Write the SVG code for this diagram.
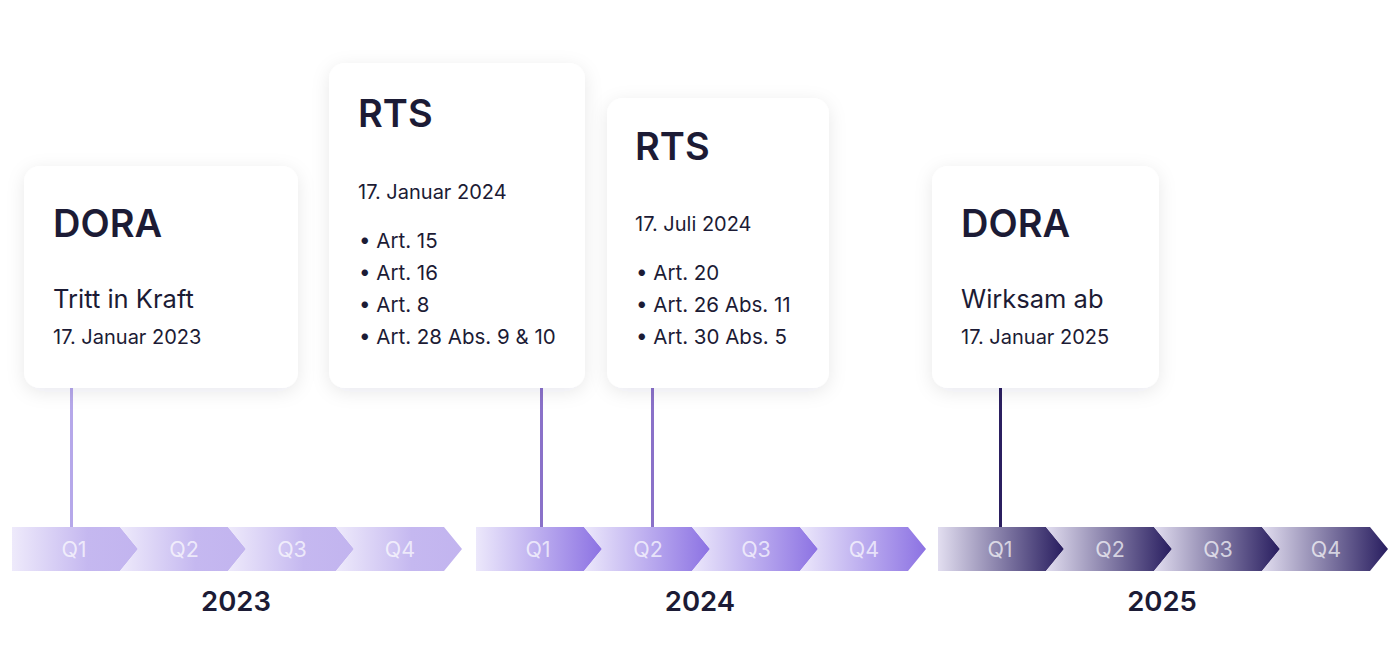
<svg xmlns="http://www.w3.org/2000/svg" width="1400" height="664" viewBox="0 0 1400 664">
<defs>
<linearGradient id="g23" x1="0" y1="0" x2="1" y2="0"><stop offset="0" stop-color="#eeeafb"/><stop offset="0.6" stop-color="#c5b8f0"/><stop offset="1" stop-color="#c2b4ef"/></linearGradient>
<linearGradient id="g24" x1="0" y1="0" x2="1" y2="0"><stop offset="0" stop-color="#ece8fb"/><stop offset="1" stop-color="#8c72e3"/></linearGradient>
<linearGradient id="g25" x1="0" y1="0" x2="1" y2="0"><stop offset="0" stop-color="#e2def0"/><stop offset="1" stop-color="#281d5f"/></linearGradient>
<filter id="sh" x="-20%" y="-20%" width="140%" height="140%"><feDropShadow dx="0" dy="4" stdDeviation="9" flood-color="#1c1a33" flood-opacity="0.09"/></filter>
</defs>
<style>
.card{fill:#ffffff;filter:url(#sh)}
.t{font-family:Inter,"Noto Sans","Liberation Sans",sans-serif;fill:#1c1b35}
.h{font-size:38px;font-weight:600}
.s{font-size:25.5px}
.d{font-size:20px}
.b{font-size:20.5px}
.q{font-family:Inter,"Noto Sans","Liberation Sans",sans-serif;font-size:21.5px;fill:#ffffff;fill-opacity:0.7;text-anchor:middle}
.y{font-family:Inter,"Noto Sans","Liberation Sans",sans-serif;font-size:27.5px;font-weight:600;fill:#1c1b35;text-anchor:middle}
.ln{stroke-width:3;fill:none}
</style>
<rect width="1400" height="664" fill="#ffffff"/>
<g id="timeline-2023">
<path d="M12,527 H120 L138,549 L120,571 H12 Z" fill="url(#g23)"/>
<path d="M120,527 H228 L246,549 L228,571 H120 L138,549 Z" fill="url(#g23)"/>
<path d="M228,527 H336 L354,549 L336,571 H228 L246,549 Z" fill="url(#g23)"/>
<path d="M336,527 H444 L462,549 L444,571 H336 L354,549 Z" fill="url(#g23)"/>
<text class="q" x="74" y="557">Q1</text><text class="q" x="184" y="557">Q2</text><text class="q" x="292" y="557">Q3</text><text class="q" x="400" y="557">Q4</text>
<text class="y" x="236" y="611">2023</text>
</g>
<g id="timeline-2024">
<path d="M476,527 H584 L602,549 L584,571 H476 Z" fill="url(#g24)"/>
<path d="M584,527 H692 L710,549 L692,571 H584 L602,549 Z" fill="url(#g24)"/>
<path d="M692,527 H800 L818,549 L800,571 H692 L710,549 Z" fill="url(#g24)"/>
<path d="M800,527 H908 L926,549 L908,571 H800 L818,549 Z" fill="url(#g24)"/>
<text class="q" x="538" y="557">Q1</text><text class="q" x="648" y="557">Q2</text><text class="q" x="756" y="557">Q3</text><text class="q" x="864" y="557">Q4</text>
<text class="y" x="700" y="611">2024</text>
</g>
<g id="timeline-2025">
<path d="M938,527 H1046 L1064,549 L1046,571 H938 Z" fill="url(#g25)"/>
<path d="M1046,527 H1154 L1172,549 L1154,571 H1046 L1064,549 Z" fill="url(#g25)"/>
<path d="M1154,527 H1262 L1280,549 L1262,571 H1154 L1172,549 Z" fill="url(#g25)"/>
<path d="M1262,527 H1370 L1388,549 L1370,571 H1262 L1280,549 Z" fill="url(#g25)"/>
<text class="q" x="1000" y="557">Q1</text><text class="q" x="1110" y="557">Q2</text><text class="q" x="1218" y="557">Q3</text><text class="q" x="1326" y="557">Q4</text>
<text class="y" x="1162" y="611">2025</text>
</g>
<g id="connectors">
<line class="ln" x1="71.5" y1="388" x2="71.5" y2="527" stroke="#b6a8ea"/>
<line class="ln" x1="541.5" y1="388" x2="541.5" y2="527" stroke="#8a71c9"/>
<line class="ln" x1="652.5" y1="388" x2="652.5" y2="527" stroke="#8a71c9"/>
<line class="ln" x1="1000.5" y1="388" x2="1000.5" y2="527" stroke="#2b1f60"/>
</g>
<g id="card-dora-2023">
<rect class="card" x="24" y="166" width="274" height="222" rx="16"/>
<text class="t h" x="53" y="237">DORA</text>
<text class="t s" x="53" y="308">Tritt in Kraft</text>
<text class="t d" x="53" y="344">17. Januar 2023</text>
</g>
<g id="card-rts-jan-2024">
<rect class="card" x="329" y="63" width="256" height="325" rx="16"/>
<text class="t h" x="358" y="127">RTS</text>
<text class="t d" x="358" y="199">17. Januar 2024</text>
<text class="t b" x="359" y="248">• Art. 15</text>
<text class="t b" x="359" y="280">• Art. 16</text>
<text class="t b" x="359" y="312">• Art. 8</text>
<text class="t b" x="359" y="344">• Art. 28 Abs. 9 &amp; 10</text>
</g>
<g id="card-rts-jul-2024">
<rect class="card" x="607" y="98" width="222" height="290" rx="16"/>
<text class="t h" x="635" y="160">RTS</text>
<text class="t d" x="635" y="231">17. Juli 2024</text>
<text class="t b" x="636" y="280">• Art. 20</text>
<text class="t b" x="636" y="312">• Art. 26 Abs. 11</text>
<text class="t b" x="636" y="344">• Art. 30 Abs. 5</text>
</g>
<g id="card-dora-2025">
<rect class="card" x="932" y="166" width="227" height="222" rx="16"/>
<text class="t h" x="961" y="237">DORA</text>
<text class="t s" x="961" y="308">Wirksam ab</text>
<text class="t d" x="961" y="344">17. Januar 2025</text>
</g>
</svg>
